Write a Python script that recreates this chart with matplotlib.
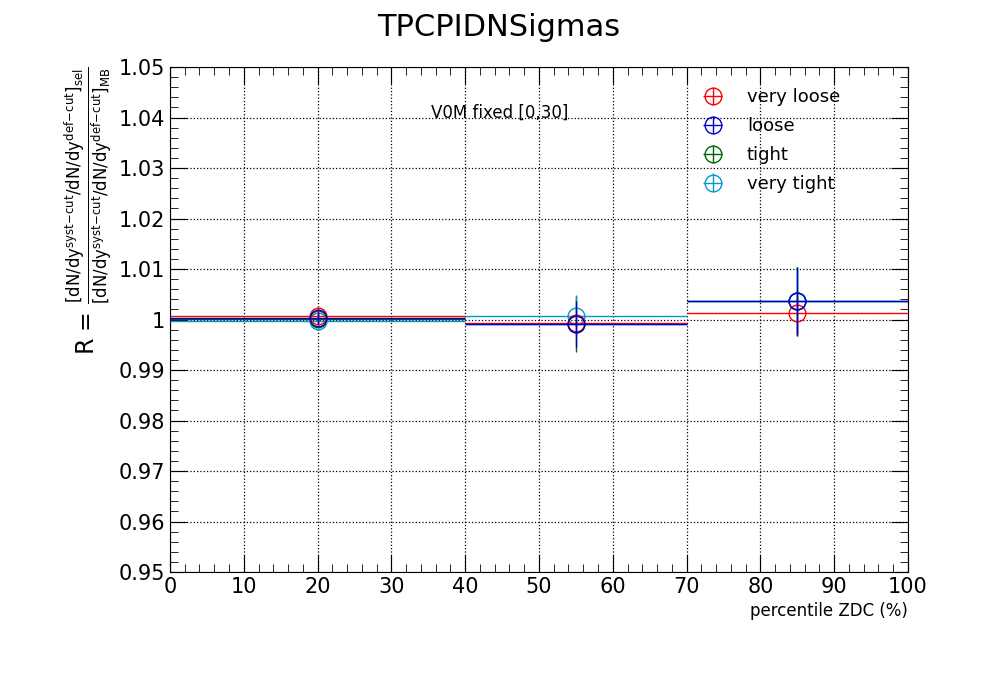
import matplotlib
matplotlib.use("Agg")
import matplotlib.pyplot as plt
from matplotlib.ticker import MultipleLocator
import numpy as np

bin_centers = [20, 55, 85]
bin_halfwidths = [20, 15, 15]
series = ["very loose", "loose", "tight", "very tight"]
colors = ["#ff0000", "#0000cc", "#006600", "#0099cc"]
zorders = [4, 5, 2, 3]
values = {
    "very loose": [1.0007, 0.9993, 1.0012],
    "loose": [1.0003, 0.9991, 1.00365],
    "tight": [1.0001, 0.9991, 1.0036],
    "very tight": [0.9997, 1.0008, 1.00365],
}
errors = {
    "very loose": [0.0015, 0.0006, 0.0045],
    "loose": [0.0012, 0.0045, 0.0068],
    "tight": [0.0015, 0.0055, 0.0068],
    "very tight": [0.0012, 0.0040, 0.0068],
}

fig = plt.figure(figsize=(9.98, 6.73), dpi=100)
ax = fig.add_axes([0.1703, 0.150, 0.7395, 0.7504])
for s, c, z in zip(series, colors, zorders):
    ax.errorbar(bin_centers, values[s], yerr=errors[s], xerr=bin_halfwidths,
                fmt="o", mfc="none", mec=c, color=c, ms=12, elinewidth=1.0,
                mew=1.0, capsize=0, label=s, zorder=z)
ax.set_xlim(0, 100)
ax.set_ylim(0.95, 1.05)
ax.xaxis.set_major_locator(MultipleLocator(10))
ax.xaxis.set_minor_locator(MultipleLocator(2))
ax.yaxis.set_major_locator(MultipleLocator(0.01))
ax.yaxis.set_minor_locator(MultipleLocator(0.002))
ax.set_yticklabels([f"{v:g}" for v in ax.get_yticks()])
ax.tick_params(which="both", direction="in", top=True, right=True, labelsize=15)
ax.tick_params(which="major", length=12)
ax.tick_params(which="minor", length=6)
ax.grid(True, which="major", linestyle=":", color="black", linewidth=0.9)
ax.set_xlabel("percentile ZDC (%)", fontsize=12, loc="right")
ax.set_ylabel(r"R = $\frac{[\mathrm{dN/dy}^{\mathrm{syst\!-\!cut}}\mathrm{/dN/dy}^{\mathrm{def\!-\!cut}}]_{\mathrm{sel}}}{[\mathrm{dN/dy}^{\mathrm{syst\!-\!cut}}\mathrm{/dN/dy}^{\mathrm{def\!-\!cut}}]_{\mathrm{MB}}}$",
              fontsize=17, loc="top", labelpad=2)
ax.text(0.447, 0.9, "V0M fixed [0,30]", transform=ax.transAxes, ha="center", fontsize=12)
fig.suptitle("TPCPIDNSigmas", fontsize=22, y=0.98)
ax.legend(loc="upper right", bbox_to_anchor=(0.93, 0.99), frameon=False, fontsize=13,
          handlelength=2.2, labelspacing=0.6)
fig.savefig("out.png", dpi=100)
